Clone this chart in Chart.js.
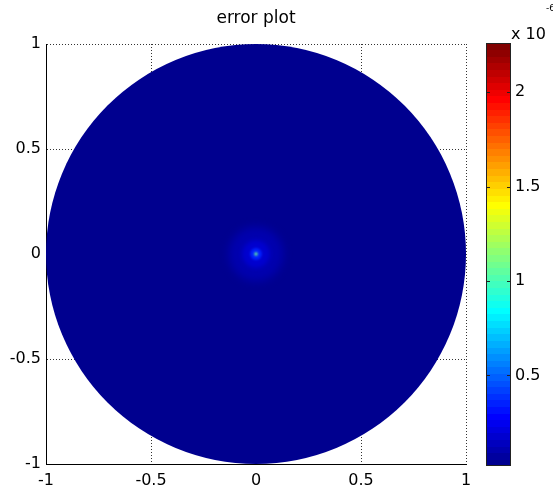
<!DOCTYPE html>
<html>
<head>
<meta charset="utf-8">
<script src="https://cdn.jsdelivr.net/npm/chart.js@4.4.1/dist/chart.umd.min.js"></script>
<style>
    body { margin: 0; background: #fff; }
    #wrap { position: relative; width: 553px; height: 496px; }
    #plot { position: absolute; left: 0; top: 0; }
    #cbar { position: absolute; left: 470px; top: 0; }
</style>
</head>
<body>
<div id="wrap">
    <canvas id="plot" width="470" height="496"></canvas>
    <canvas id="cbar" width="83" height="496"></canvas>
</div>
<script>
// axis ticks
const xTicks = [-1, -0.5, 0, 0.5, 1];
const yTicks = [-1, -0.5, 0, 0.5, 1];

// error field on the unit disk, radial bands (outermost first)
const ringRadius = [1, 0.13, 0.065, 0.028, 0.008];
const ringError = [0.02, 0.09, 0.17, 0.34, 1.1];   // x 10^-6

// colour scale
const errMin = 0.02;
const errMax = 2.26;
const cbTicks = [0.5, 1, 1.5, 2];
const errExponent = -6;

const FONT = '"DejaVu Sans", "Liberation Sans", Arial, sans-serif';
Chart.defaults.font.family = FONT;
Chart.defaults.color = '#000';

// 64 level jet colormap
function jet(i) {
    var t = (i + 1) / 64;
    var c = function(v) { return Math.round(Math.max(0, Math.min(1, v)) * 255); };
    return 'rgb(' + c(1.5 - Math.abs(4 * t - 3)) + ',' + c(1.5 - Math.abs(4 * t - 2)) + ',' + c(1.5 - Math.abs(4 * t - 1)) + ')';
}
function errColor(v) {
    var i = Math.floor((v - errMin) / (errMax - errMin) * 64);
    return jet(Math.max(0, Math.min(63, i)));
}
function plainLabel(v) { return String(v); }

const diskPlugin = {
    id: 'disk',
    beforeDatasetsDraw(chart) {
        const ctx = chart.ctx;
        const xs = chart.scales.x, ys = chart.scales.y;
        const cx = xs.getPixelForValue(0), cy = ys.getPixelForValue(0);
        ctx.save();
        for (var i = 0; i < ringRadius.length; i++) {
            var r = xs.getPixelForValue(ringRadius[i]) - cx;
            ctx.fillStyle = errColor(ringError[i]);
            ctx.filter = i > 0 ? 'blur(' + Math.max(0.8, r * 0.15) + 'px)' : 'none';
            ctx.beginPath();
            ctx.arc(cx, cy, r, 0, Math.PI * 2);
            ctx.fill();
        }
        ctx.restore();
    }
};

new Chart(document.getElementById('plot'), {
    type: 'scatter',
    data: { datasets: [] },
    plugins: [diskPlugin],
    options: {
        responsive: false,
        animation: false,
        devicePixelRatio: 1,
        layout: { padding: { top: 0, left: 0, right: 4, bottom: 0 } },
        plugins: {
            legend: { display: false },
            tooltip: { enabled: false },
            title: {
                display: true,
                text: 'error plot',
                fullSize: false,
                color: '#000',
                font: { size: 17, weight: 'normal' },
                padding: { top: 8, bottom: 15.6 }
            }
        },
        scales: {
            x: {
                type: 'linear', min: -1, max: 1,
                afterBuildTicks: function(s) { s.ticks = xTicks.map(function(v) { return { value: v }; }); },
                afterFit: function(s) { s.height = 32; s.paddingLeft = 0; s.paddingRight = 0; },
                ticks: { padding: 7, font: { size: 16 }, maxRotation: 0, callback: plainLabel },
                grid: { color: '#333', drawTicks: false },
                border: { color: '#000', dash: [1, 2] }
            },
            y: {
                type: 'linear', min: -1, max: 1,
                afterBuildTicks: function(s) { s.ticks = yTicks.map(function(v) { return { value: v }; }); },
                afterFit: function(s) { s.width = 46; s.paddingTop = 0; s.paddingBottom = 0; },
                ticks: { padding: 5, font: { size: 16 }, callback: plainLabel },
                grid: { color: '#333', drawTicks: false },
                border: { color: '#000', dash: [1, 2] }
            }
        }
    }
});

const colorbarPlugin = {
    id: 'colorbar',
    beforeDatasetsDraw(chart) {
        const ctx = chart.ctx;
        const a = chart.chartArea;
        const ys = chart.scales.y;
        ctx.save();
        var step = (errMax - errMin) / 64;
        for (var i = 0; i < 64; i++) {
            var top = ys.getPixelForValue(errMin + (i + 1) * step);
            var bot = ys.getPixelForValue(errMin + i * step);
            ctx.fillStyle = jet(i);
            ctx.fillRect(a.left, Math.floor(top), a.right - a.left, Math.ceil(bot) - Math.floor(top));
        }
        ctx.strokeStyle = '#222';
        ctx.lineWidth = 1;
        ctx.strokeRect(a.left + 0.5, a.top + 0.5, a.right - a.left - 1, a.bottom - a.top - 1);
        cbTicks.forEach(function(v) {
            var y = Math.round(ys.getPixelForValue(v)) + 0.5;
            ctx.beginPath();
            ctx.moveTo(a.left, y); ctx.lineTo(a.left + 4, y);
            ctx.moveTo(a.right - 4, y); ctx.lineTo(a.right, y);
            ctx.stroke();
        });
        // exponent label
        ctx.fillStyle = '#000';
        ctx.textBaseline = 'alphabetic';
        ctx.font = '16px ' + FONT;
        ctx.fillText('x 10', 41, 39);
        ctx.font = '9px ' + FONT;
        ctx.fillText(String(errExponent), 76, 11);
        ctx.restore();
    }
};

new Chart(document.getElementById('cbar'), {
    type: 'scatter',
    data: { datasets: [] },
    plugins: [colorbarPlugin],
    options: {
        responsive: false,
        animation: false,
        devicePixelRatio: 1,
        layout: { padding: { top: 43, left: 16, right: 0, bottom: 30 } },
        plugins: { legend: { display: false }, tooltip: { enabled: false } },
        scales: {
            x: { type: 'linear', min: 0, max: 1, display: false },
            y: {
                type: 'linear', position: 'right', min: errMin, max: errMax,
                afterBuildTicks: function(s) { s.ticks = cbTicks.map(function(v) { return { value: v }; }); },
                afterFit: function(s) { s.width = 42; s.paddingTop = 0; s.paddingBottom = 0; },
                ticks: { padding: 4, font: { size: 16 }, callback: plainLabel },
                grid: { display: false, drawTicks: false },
                border: { display: false }
            }
        }
    }
});
</script>
</body>
</html>
